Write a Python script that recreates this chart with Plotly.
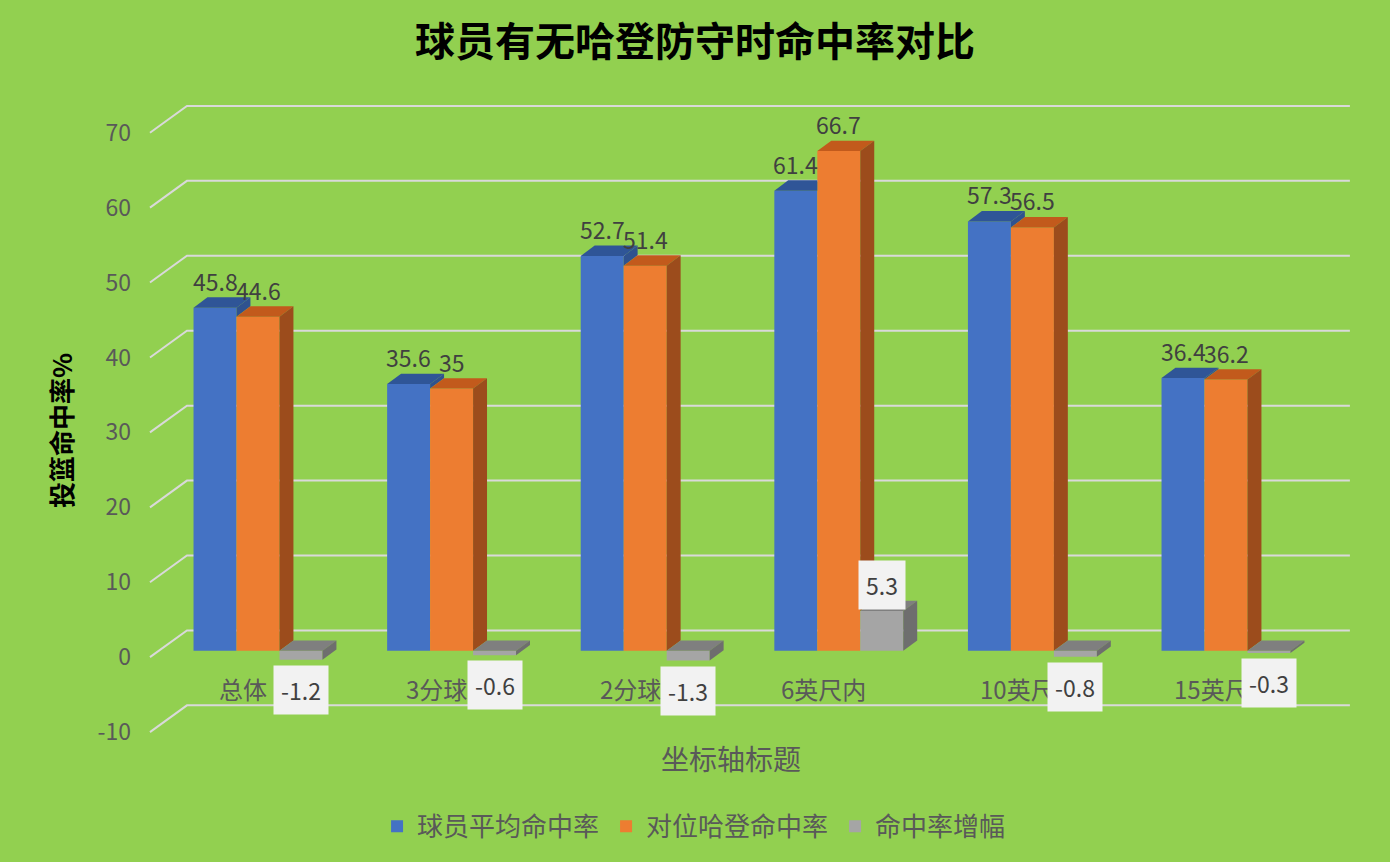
import plotly.graph_objects as go

# data
categories = ["总体", "3分球", "2分球", "6英尺内", "10英尺", "15英尺"]
avg_pct = [45.8, 35.6, 52.7, 61.4, 57.3, 36.4]
harden_pct = [44.6, 35, 51.4, 66.7, 56.5, 36.2]
diff_pct = [-1.2, -0.6, -1.3, 5.3, -0.8, -0.3]
y_ticks = [-10, 0, 10, 20, 30, 40, 50, 60, 70]

series_names = ["球员平均命中率", "对位哈登命中率", "命中率增幅"]
series_vals = [avg_pct, harden_pct, diff_pct]
front_colors = ["#4472C4", "#ED7D31", "#A5A5A5"]
top_colors = ["#2F5597", "#C25A1C", "#7F7F7F"]
side_colors = ["#2F528F", "#9C4C1C", "#6E6E6E"]

FONT = "Noto Sans CJK SC"
TXT = "#595959"

# geometry (data units): 1 x-unit = one category, y in percent
w = 0.222            # bar width
offs = [-w, 0, w]    # offsets inside a group
dx, dy = 0.072, 1.39  # 3d depth offset
lab_off = -0.85      # front plane zero vs bar zero
back_off = 2.72      # back wall offset

fig = go.Figure()

# front faces
for k in range(3):
    fig.add_trace(go.Bar(
        x=[i + offs[k] for i in range(len(categories))],
        y=series_vals[k], width=w, name=series_names[k],
        marker=dict(color=front_colors[k], line=dict(width=0)),
        hoverinfo="skip",
    ))


def face(pts, color):
    xs = [p[0] for p in pts] + [pts[0][0]]
    ys = [p[1] for p in pts] + [pts[0][1]]
    return go.Scatter(x=xs, y=ys, fill="toself", fillcolor=color, mode="lines",
                      line=dict(width=0, color=color), hoverinfo="skip",
                      showlegend=False)


# top and side faces
for i in range(len(categories)):
    for k in range(3):
        v = series_vals[k][i]
        x0 = i + offs[k] - w / 2
        x1 = x0 + w
        t, b = max(v, 0), min(v, 0)
        nxt = series_vals[k + 1][i] if k < 2 else None
        if nxt is not None and nxt >= t + dy:
            top = [(x0, t), (x1, t), (x1, t + dy), (x0 + dx, t + dy)]
        else:
            top = [(x0, t), (x1, t), (x1 + dx, t + dy), (x0 + dx, t + dy)]
        fig.add_trace(face(top, top_colors[k]))
        base = b if nxt is None else max(b, max(nxt, 0))
        if base < t:
            side = [(x1, base), (x1, t), (x1 + dx, t + dy), (x1 + dx, base + dy)]
            fig.add_trace(face(side, side_colors[k]))

# gridlines on the back wall
x_front, x_back, x_end = -0.558, -0.367, 5.64
shapes = []
for v in y_ticks:
    shapes.append(dict(
        type="path", xref="x", yref="y", layer="below",
        path=f"M{x_front},{v + lab_off} L{x_back},{v + back_off} L{x_end},{v + back_off}",
        line=dict(color="#D9D9D9", width=2),
    ))

annotations = []
# category labels
for i, c in enumerate(categories):
    annotations.append(dict(x=i - 0.077, y=-5.0, xref="x", yref="y", text=c,
                            showarrow=False, font=dict(family=FONT, size=24, color=TXT)))
# data labels
for k in range(2):
    for i, v in enumerate(series_vals[k]):
        annotations.append(dict(x=i + offs[k], y=v, xref="x", yref="y", text=f"{v:g}",
                                showarrow=False, yshift=27,
                                font=dict(family=FONT, size=23, color="#404040")))
for i, v in enumerate(diff_pct):
    annotations.append(dict(x=i + offs[2], y=v, xref="x", yref="y", text=f"{v:g}",
                            showarrow=False, yshift=26 if v > 0 else -30,
                            bgcolor="#F2F2F2", borderpad=7,
                            font=dict(family=FONT, size=23, color="#404040")))
# axis titles
annotations.append(dict(x=-0.0642, y=0.4785, xref="paper", yref="paper",
                        xanchor="center", yanchor="middle",
                        text="<b>投篮命中率%</b>", textangle=-90, showarrow=False,
                        font=dict(family=FONT, size=26, color="#000000")))
annotations.append(dict(x=0.4805, y=-0.029, xref="paper", yref="paper",
                        xanchor="center", yanchor="middle",
                        text="坐标轴标题", showarrow=False,
                        font=dict(family=FONT, size=28, color=TXT)))

fig.update_layout(
    width=1390, height=862,
    margin=dict(l=140, r=20, t=95, b=117),
    paper_bgcolor="#92D050", plot_bgcolor="#92D050",
    barmode="overlay",
    title=dict(text="<b>球员有无哈登防守时命中率对比</b>", x=0.5, xref="container",
               y=0.951, yanchor="middle",
               font=dict(family=FONT, size=40, color="#000000")),
    xaxis=dict(range=[(140 - 258) / 193.6, (1370 - 258) / 193.6], visible=False),
    yaxis=dict(range=[-11.77, 74.18], showgrid=False, zeroline=False,
               tickvals=[v + lab_off for v in y_ticks], ticktext=[str(v) for v in y_ticks],
               ticklabelstandoff=8,
               tickfont=dict(family=FONT, size=23, color=TXT)),
    legend=dict(orientation="h", x=0.472, xanchor="center", y=-0.1356, yanchor="middle",
                font=dict(family=FONT, size=26, color=TXT), entrywidth=184,
                bgcolor="rgba(0,0,0,0)"),
    shapes=shapes,
    annotations=annotations,
)

fig.write_html("out.html", config={"displayModeBar": False},
               post_script="document.body.style.margin='0';document.body.style.overflow='hidden';")
